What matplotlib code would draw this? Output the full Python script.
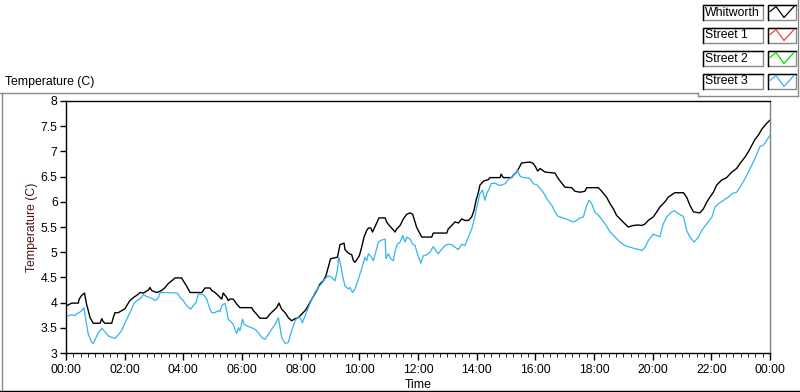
import matplotlib
matplotlib.use("Agg")
import matplotlib.pyplot as plt
import matplotlib.patches as patches
from matplotlib.lines import Line2D
from matplotlib.ticker import MultipleLocator, FixedLocator

plt.rcParams['font.family'] = ['Liberation Sans', 'DejaVu Sans']

# time in hours from midnight, temperature in C
whit_t = [0.00, 0.19, 0.42, 0.45, 0.53, 0.63, 0.70, 0.76, 0.82, 0.93, 1.16, 1.22, 1.27, 1.33, 1.56,
          1.61, 1.67, 1.78, 1.90, 2.01, 2.07, 2.18, 2.30, 2.47, 2.52, 2.64, 2.81, 2.86, 2.92, 3.09,
          3.26, 3.38, 3.49, 3.60, 3.72, 3.94, 4.00, 4.11, 4.23, 4.63, 4.68, 4.74, 4.91, 4.97, 5.08,
          5.19, 5.31, 5.36, 5.48, 5.53, 5.59, 5.70, 5.82, 5.93, 6.33, 6.39, 6.50, 6.61, 6.84, 6.95,
          7.07, 7.18, 7.26, 7.35, 7.47, 7.58, 7.69, 7.81, 7.92, 8.03, 8.15, 8.26, 8.38, 8.55, 8.66,
          8.77, 8.86, 8.94, 9.02, 9.25, 9.28, 9.34, 9.48, 9.51, 9.63, 9.74, 9.80, 9.85, 9.91, 10.00,
          10.08, 10.16, 10.25, 10.31, 10.39, 10.45, 10.53, 10.61, 10.67, 10.88, 10.93, 11.02, 11.10,
          11.22, 11.27, 11.39, 11.50, 11.61, 11.73, 11.82, 11.90, 11.95, 12.01, 12.13, 12.47, 12.52,
          12.98, 13.03, 13.15, 13.26, 13.38, 13.49, 13.60, 13.72, 13.83, 13.91, 13.98, 14.06, 14.11,
          14.23, 14.40, 14.45, 14.80, 14.83, 14.91, 15.19, 15.25, 15.36, 15.45, 15.53, 15.82, 15.93,
          16.01, 16.08, 16.16, 16.33, 16.67, 16.78, 16.90, 17.01, 17.24, 17.35, 17.52, 17.69, 17.75,
          18.15, 18.26, 18.43, 18.55, 18.66, 18.77, 18.89, 19.06, 19.17, 19.34, 19.51, 19.63, 19.74,
          19.85, 20.02, 20.14, 20.25, 20.42, 20.53, 20.65, 20.76, 21.05, 21.16, 21.27, 21.39, 21.61,
          21.73, 21.84, 21.95, 22.07, 22.18, 22.35, 22.52, 22.70, 22.86, 22.98, 23.15, 23.26, 23.38,
          23.49, 23.60, 23.72, 23.89, 24.00]
whit_v = [3.93, 3.99, 3.99, 4.07, 4.14, 4.19, 3.97, 3.84, 3.70, 3.59, 3.59, 3.68, 3.62, 3.59, 3.59,
          3.70, 3.80, 3.80, 3.84, 3.88, 3.94, 4.04, 4.10, 4.17, 4.20, 4.19, 4.25, 4.30, 4.24, 4.20,
          4.24, 4.30, 4.38, 4.43, 4.49, 4.49, 4.43, 4.33, 4.20, 4.20, 4.24, 4.29, 4.29, 4.24, 4.20,
          4.14, 4.07, 4.19, 4.10, 4.04, 4.07, 4.07, 3.97, 3.90, 3.90, 3.84, 3.77, 3.69, 3.69, 3.77,
          3.84, 3.90, 3.99, 3.87, 3.80, 3.70, 3.64, 3.68, 3.70, 3.77, 3.84, 3.94, 4.07, 4.24, 4.37,
          4.43, 4.53, 4.70, 4.87, 4.90, 4.97, 5.15, 5.18, 5.05, 4.98, 4.95, 4.83, 4.80, 4.85, 4.93,
          5.10, 5.30, 5.43, 5.48, 5.48, 5.40, 5.50, 5.60, 5.68, 5.68, 5.60, 5.53, 5.48,
          5.40, 5.46, 5.53, 5.66, 5.75, 5.78, 5.75, 5.60, 5.50, 5.43, 5.30, 5.30, 5.38,
          5.38, 5.46, 5.53, 5.60, 5.58, 5.66, 5.63, 5.63, 5.70, 5.83, 6.03, 6.19, 6.33,
          6.41, 6.44, 6.48, 6.48, 6.55, 6.48, 6.48, 6.53, 6.59, 6.68, 6.77, 6.79, 6.76,
          6.69, 6.61, 6.66, 6.59, 6.57, 6.46, 6.37, 6.29, 6.28, 6.21, 6.19, 6.21, 6.28,
          6.28, 6.21, 6.09, 5.96, 5.86, 5.73, 5.66, 5.56, 5.50, 5.53, 5.54, 5.53, 5.56,
          5.63, 5.70, 5.80, 5.90, 6.00, 6.09, 6.14, 6.18, 6.18, 6.09, 5.93, 5.80, 5.78,
          5.86, 5.99, 6.09, 6.19, 6.33, 6.43, 6.48, 6.59, 6.66, 6.76, 6.89, 6.99, 7.12,
          7.24, 7.32, 7.44, 7.56, 7.62]

st3_t = [0.00, 0.19, 0.31, 0.36, 0.45, 0.53, 0.61, 0.68, 0.76, 0.88, 0.93, 1.05, 1.10, 1.22, 1.33,
         1.44, 1.56, 1.67, 1.78, 1.90, 2.01, 2.13, 2.24, 2.30, 2.41, 2.52, 2.64, 2.75, 2.86, 2.98,
         3.03, 3.09, 3.15, 3.20, 3.32, 3.77, 3.83, 3.89, 4.00, 4.11, 4.25, 4.34, 4.43, 4.51, 4.63,
         4.68, 4.80, 4.85, 4.91, 4.97, 5.08, 5.19, 5.25, 5.31, 5.42, 5.48, 5.53, 5.59, 5.70, 5.76,
         5.82, 5.88, 5.93, 6.02, 6.07, 6.16, 6.33, 6.44, 6.56, 6.67, 6.78, 6.90, 7.01, 7.13, 7.24,
         7.30, 7.35, 7.47, 7.58, 7.69, 7.81, 7.92, 7.98, 8.06, 8.15, 8.26, 8.38, 8.49, 8.60, 8.72,
         8.83, 8.94, 9.06, 9.17, 9.25, 9.30, 9.36, 9.43, 9.51, 9.63, 9.68, 9.77, 9.85, 9.97, 10.08,
         10.19, 10.25, 10.31, 10.42, 10.48, 10.57, 10.65, 10.76, 10.88, 10.91, 10.99, 11.07, 11.16,
         11.22, 11.30, 11.39, 11.48, 11.56, 11.61, 11.73, 11.82, 11.90, 11.98, 12.07, 12.10, 12.18,
         12.30, 12.41, 12.52, 12.61, 12.69, 12.77, 12.92, 13.03, 13.15, 13.26, 13.38, 13.49, 13.60,
         13.72, 13.83, 13.91, 13.98, 14.06, 14.11, 14.20, 14.28, 14.34, 14.43, 14.49, 14.63, 14.74,
         14.85, 14.97, 15.08, 15.19, 15.31, 15.39, 15.48, 15.59, 15.70, 15.82, 15.93, 16.07, 16.16,
         16.27, 16.39, 16.56, 16.67, 16.78, 16.95, 17.13, 17.30, 17.41, 17.52, 17.64, 17.75, 17.83,
         17.92, 18.03, 18.20, 18.38, 18.55, 18.72, 18.89, 19.06, 19.23, 19.40, 19.57, 19.63, 19.74,
         19.85, 20.02, 20.14, 20.25, 20.36, 20.48, 20.65, 20.76, 20.88, 21.05, 21.16, 21.27, 21.41,
         21.56, 21.67, 21.84, 22.02, 22.13, 22.24, 22.41, 22.58, 22.70, 22.86, 22.98, 23.15, 23.32,
         23.49, 23.66, 23.77, 23.89, 24.00]
st3_v = [3.72, 3.76, 3.74, 3.78, 3.80, 3.84, 3.90, 3.64, 3.37, 3.21, 3.19, 3.34, 3.40, 3.49, 3.42,
         3.34, 3.31, 3.29, 3.36, 3.45, 3.60, 3.74, 3.87, 3.97, 4.04, 4.07, 4.16, 4.12, 4.10, 4.07,
         4.04, 4.06, 4.10, 4.20, 4.20, 4.19, 4.17, 4.10, 4.04, 3.94, 3.87, 3.94, 4.00, 4.16, 4.17,
         4.16, 4.07, 3.97, 3.87, 3.80, 3.80, 3.84, 3.82, 3.94, 3.99, 3.84, 3.67, 3.64, 3.57, 3.47,
         3.39, 3.50, 3.44, 3.67, 3.57, 3.54, 3.50, 3.47, 3.40, 3.31, 3.27, 3.37, 3.47, 3.57, 3.70,
         3.50, 3.31, 3.19, 3.21, 3.44, 3.64, 3.72, 3.70, 3.60, 3.74, 3.90, 4.07, 4.20, 4.30, 4.38,
         4.47, 4.53, 4.50, 4.43, 4.63, 4.90, 4.77, 4.53, 4.33, 4.27, 4.30, 4.20, 4.27, 4.47, 4.67,
         4.90, 4.83, 4.97, 4.90, 4.83, 5.03, 5.20, 5.24, 5.26, 4.87, 4.97, 4.87, 4.83,
         5.03, 5.16, 5.20, 5.33, 5.20, 5.30, 5.26, 5.16, 5.13, 4.97, 4.83, 4.78, 4.93,
         4.95, 5.00, 5.11, 5.03, 4.97, 5.03, 5.13, 5.16, 5.15, 5.10, 5.05, 5.16, 5.13,
         5.30, 5.46, 5.63, 5.83, 6.03, 6.16, 6.23, 6.03, 6.16, 6.26, 6.36, 6.37, 6.33,
         6.33, 6.36, 6.44, 6.49, 6.56, 6.63, 6.51, 6.48, 6.48, 6.46, 6.36, 6.33, 6.26,
         6.19, 6.06, 5.93, 5.80, 5.71, 5.68, 5.64, 5.60, 5.63, 5.68, 5.70, 5.93, 6.03,
         5.96, 5.80, 5.70, 5.56, 5.40, 5.30, 5.20, 5.13, 5.10, 5.07, 5.05, 5.03, 5.10,
         5.23, 5.36, 5.33, 5.31, 5.56, 5.70, 5.80, 5.82, 5.76, 5.71, 5.43, 5.30, 5.20,
         5.30, 5.43, 5.56, 5.70, 5.90, 5.96, 6.03, 6.09, 6.16, 6.19, 6.29, 6.46, 6.66,
         6.86, 7.10, 7.12, 7.22, 7.32]

legend_names = ["Whitworth", "Street 1", "Street 2", "Street 3"]
legend_colors = ["black", "#ff3b3b", "#00dd00", "#33b5f0"]
x_labels = ["00:00", "02:00", "04:00", "06:00", "08:00", "10:00", "12:00",
            "14:00", "16:00", "18:00", "20:00", "22:00", "00:00"]

W, H = 800, 392
FS = 8.8


def fx(x):
    return x / W


def fy(y):
    return 1 - y / H


fig = plt.figure(figsize=(W / 100, H / 100), dpi=100)
fig.patch.set_facecolor("white")

ax = fig.add_axes([fx(66), fy(353), (770 - 66) / W, (353 - 101) / H])
ax.plot(whit_t, whit_v, color=legend_colors[0], lw=1.0)
ax.plot(st3_t, st3_v, color=legend_colors[3], lw=0.9)
ax.set_xlim(0, 24)
ax.set_ylim(3, 8)

ax.xaxis.set_major_locator(FixedLocator(range(0, 25, 2)))
ax.set_xticklabels(x_labels)
ax.xaxis.set_minor_locator(MultipleLocator(0.25))
ax.yaxis.set_major_locator(MultipleLocator(0.5))
ax.set_yticklabels([f"{v:g}" for v in ax.get_yticks()])
ax.tick_params(axis="both", direction="out", labelsize=FS, color="black", width=1)
ax.tick_params(axis="x", which="major", length=5, pad=3)
ax.tick_params(axis="x", which="minor", length=3)
ax.tick_params(axis="y", which="major", length=4, pad=2)
for s in ["left", "top", "bottom"]:
    ax.spines[s].set_color("black")
    ax.spines[s].set_linewidth(1)
ax.spines["right"].set_color("#808080")
ax.spines["right"].set_linewidth(1)

ax.set_xlabel("Time", fontsize=FS, labelpad=2)
ax.set_ylabel("Temperature (C)", fontsize=FS, color="#4a1515", labelpad=2)

fig.text(fx(5), fy(82), "Temperature (C)", fontsize=FS, va="center", ha="left")

# panel frame
def fline(xs, ys, color, lw=1.0):
    fig.add_artist(Line2D([fx(x) for x in xs], [fy(y) for y in ys],
                          transform=fig.transFigure, color=color, lw=lw))

fline([0, 698], [92.5, 92.5], "#8a8a8a")
fline([698, 698], [92.5, 95.5], "#8a8a8a")
fline([698, 798], [95.5, 95.5], "#8a8a8a")
fline([798, 798], [0, 95.5], "#8a8a8a")
fline([1.5, 1.5], [92.5, 392], "#8a8a8a")
fline([0, 800], [390.5, 390.5], "black")

# legend boxes
row_top = [4.5, 27.5, 50.5, 73.5]
for name, col, top in zip(legend_names, legend_colors, row_top):
    h = 15
    for x0, w in [(702.5, 60), (767.5, 28)]:
        fig.add_artist(patches.Rectangle((fx(x0), fy(top + h)), w / W, h / H,
                                         transform=fig.transFigure, facecolor="white",
                                         edgecolor="#8a8a8a", lw=1))
        fline([x0, x0, x0 + w], [top + h, top, top], "black")
    fig.text(fx(705), fy(top + h / 2 + 0.5), name, fontsize=FS, va="center", ha="left")
    sx = [770, 776, 784, 794]
    sy = [top + 7, top + 2, top + 13, top + 2]
    fline(sx, sy, col, lw=0.9)

fig.savefig("out.png", dpi=100)
